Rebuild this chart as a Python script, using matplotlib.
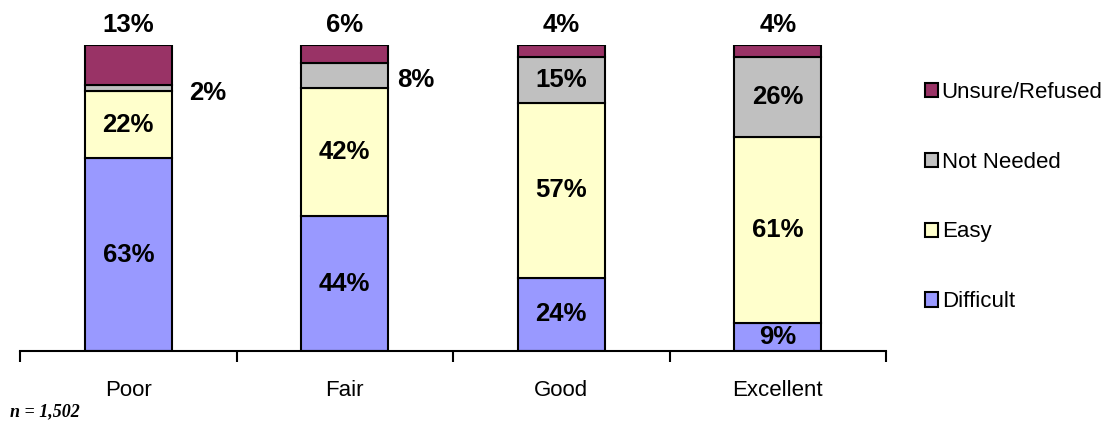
import matplotlib.pyplot as plt
import numpy as np

plt.rcParams['font.family'] = ['Liberation Sans', 'DejaVu Sans']

# Data
categories = ['Poor', 'Fair', 'Good', 'Excellent']
series = ['Difficult', 'Easy', 'Not Needed', 'Unsure/Refused']
difficult = [63, 44, 24, 9]
easy = [22, 42, 57, 61]
not_needed = [2, 8, 15, 26]
unsure = [13, 6, 4, 4]
colors = ['#9999FF', '#FFFFCC', '#C0C0C0', '#993366']

# gap (points) between bar edge and the outside "Not Needed" labels
side_gap = [13, 6.5, 6.5, 6.5]

fig = plt.figure(figsize=(11.07, 4.26), dpi=100)
ax = fig.add_axes([20 / 1107, 1 - 351 / 426, 866 / 1107, 306 / 426])

x = np.arange(len(categories))
bottom = np.zeros(len(categories))
handles = []
for name, vals, col in zip(series, [difficult, easy, not_needed, unsure], colors):
    bars = ax.bar(x, vals, 0.4, bottom=bottom, color=col, edgecolor='black',
                  linewidth=1.5, label=name, zorder=2)
    handles.append(bars)
    for i, (xi, b, v) in enumerate(zip(x, bottom, vals)):
        if name == 'Unsure/Refused':
            ax.annotate(f'{v}%', (xi, b + v), xytext=(0, 6), textcoords='offset points',
                        ha='center', va='bottom', fontsize=18.5, fontweight='bold',
                        annotation_clip=False)
        elif name == 'Not Needed' and v < 10:
            ax.annotate(f'{v}%', (xi + 0.2, b + v / 2), xytext=(side_gap[i], -3.5),
                        textcoords='offset points', ha='left', va='center',
                        fontsize=18.5, fontweight='bold')
        else:
            ax.text(xi, b + v / 2, f'{v}%', ha='center', va='center',
                    fontsize=18.5, fontweight='bold')
    bottom += np.array(vals)

ax.set_xlim(-0.5, len(categories) - 0.5)
ax.set_ylim(0, 100)
for s in ['left', 'right', 'top']:
    ax.spines[s].set_visible(False)
ax.spines['bottom'].set_linewidth(1.5)
ax.set_yticks([])
ax.set_xticks(x)
ax.set_xticklabels(categories, fontsize=16)
ax.tick_params(axis='x', which='major', length=0, pad=21)
ax.set_xticks(np.arange(len(categories) + 1) - 0.5, minor=True)
ax.tick_params(axis='x', which='minor', length=8, width=1.5)

fig.legend(handles=handles[::-1], labels=series[::-1], loc='center left',
           bbox_to_anchor=(905 / 1107, 1 - 197 / 426), frameon=False, fontsize=16,
           handlelength=0.6, handleheight=0.6, handletextpad=0.15, labelspacing=2.2)

fig.text(10 / 1107, 1 - 412 / 426, 'n = 1,502', fontsize=13, fontweight='bold',
         fontstyle='italic', family='Liberation Serif', va='center')

plt.savefig('out.png', dpi=100)
